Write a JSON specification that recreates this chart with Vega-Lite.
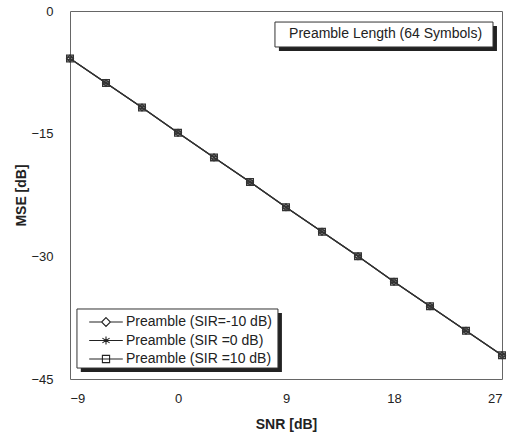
{
  "$schema": "https://vega.github.io/schema/vega-lite/v6.json",
  "width": 432,
  "height": 368,
  "autosize": {"type": "none"},
  "padding": {"left": 70, "top": 11, "right": 18, "bottom": 56},
  "background": "white",
  "config": {
    "font": "Liberation Sans",
    "view": {"stroke": "#666", "strokeWidth": 1},
    "axis": {
      "domain": false,
      "ticks": false,
      "labelFont": "Liberation Sans",
      "labelFontSize": 13,
      "labelColor": "#222",
      "titleFont": "Liberation Sans",
      "titleFontSize": 14,
      "titleFontWeight": "bold",
      "titleColor": "#222",
      "gridColor": "#bbb",
      "gridDash": [1, 6],
      "gridOpacity": 0.5
    }
  },
  "datasets": {
    "curves": [
      {"series": "Preamble (SIR=-10 dB)", "snr": -9, "mse": -5.8},
      {"series": "Preamble (SIR=-10 dB)", "snr": -6, "mse": -8.8},
      {"series": "Preamble (SIR=-10 dB)", "snr": -3, "mse": -11.8},
      {"series": "Preamble (SIR=-10 dB)", "snr": 0, "mse": -14.9},
      {"series": "Preamble (SIR=-10 dB)", "snr": 3, "mse": -17.9},
      {"series": "Preamble (SIR=-10 dB)", "snr": 6, "mse": -20.9},
      {"series": "Preamble (SIR=-10 dB)", "snr": 9, "mse": -24.0},
      {"series": "Preamble (SIR=-10 dB)", "snr": 12, "mse": -27.0},
      {"series": "Preamble (SIR=-10 dB)", "snr": 15, "mse": -30.0},
      {"series": "Preamble (SIR=-10 dB)", "snr": 18, "mse": -33.1},
      {"series": "Preamble (SIR=-10 dB)", "snr": 21, "mse": -36.1},
      {"series": "Preamble (SIR=-10 dB)", "snr": 24, "mse": -39.1},
      {"series": "Preamble (SIR=-10 dB)", "snr": 27, "mse": -42.1},
      {"series": "Preamble (SIR =0 dB)", "snr": -9, "mse": -5.8},
      {"series": "Preamble (SIR =0 dB)", "snr": -6, "mse": -8.8},
      {"series": "Preamble (SIR =0 dB)", "snr": -3, "mse": -11.8},
      {"series": "Preamble (SIR =0 dB)", "snr": 0, "mse": -14.9},
      {"series": "Preamble (SIR =0 dB)", "snr": 3, "mse": -17.9},
      {"series": "Preamble (SIR =0 dB)", "snr": 6, "mse": -20.9},
      {"series": "Preamble (SIR =0 dB)", "snr": 9, "mse": -24.0},
      {"series": "Preamble (SIR =0 dB)", "snr": 12, "mse": -27.0},
      {"series": "Preamble (SIR =0 dB)", "snr": 15, "mse": -30.0},
      {"series": "Preamble (SIR =0 dB)", "snr": 18, "mse": -33.1},
      {"series": "Preamble (SIR =0 dB)", "snr": 21, "mse": -36.1},
      {"series": "Preamble (SIR =0 dB)", "snr": 24, "mse": -39.1},
      {"series": "Preamble (SIR =0 dB)", "snr": 27, "mse": -42.1},
      {"series": "Preamble (SIR =10 dB)", "snr": -9, "mse": -5.8},
      {"series": "Preamble (SIR =10 dB)", "snr": -6, "mse": -8.8},
      {"series": "Preamble (SIR =10 dB)", "snr": -3, "mse": -11.8},
      {"series": "Preamble (SIR =10 dB)", "snr": 0, "mse": -14.9},
      {"series": "Preamble (SIR =10 dB)", "snr": 3, "mse": -17.9},
      {"series": "Preamble (SIR =10 dB)", "snr": 6, "mse": -20.9},
      {"series": "Preamble (SIR =10 dB)", "snr": 9, "mse": -24.0},
      {"series": "Preamble (SIR =10 dB)", "snr": 12, "mse": -27.0},
      {"series": "Preamble (SIR =10 dB)", "snr": 15, "mse": -30.0},
      {"series": "Preamble (SIR =10 dB)", "snr": 18, "mse": -33.1},
      {"series": "Preamble (SIR =10 dB)", "snr": 21, "mse": -36.1},
      {"series": "Preamble (SIR =10 dB)", "snr": 24, "mse": -39.1},
      {"series": "Preamble (SIR =10 dB)", "snr": 27, "mse": -42.1}
    ],
    "note": [{"text": "Preamble Length (64 Symbols)"}]
  },
  "resolve": {"scale": {"shape": "independent"}, "legend": {"shape": "independent"}},
  "encoding": {
    "x": {
      "type": "quantitative",
      "scale": {"domain": [-9, 27], "nice": false, "zero": false},
      "axis": {
        "title": "SNR [dB]",
        "values": [-9, -6, -3, 0, 3, 6, 9, 12, 15, 18, 21, 24, 27],
        "labelExpr": "datum.value % 9 === 0 ? datum.label : ''",
        "labelPadding": 13,
        "titlePadding": 12
      }
    },
    "y": {
      "type": "quantitative",
      "scale": {"domain": [-45, 0], "nice": false, "zero": false},
      "axis": {
        "title": "MSE [dB]",
        "values": [-45, -42, -39, -36, -33, -30, -27, -24, -21, -18, -15, -12, -9, -6, -3, 0],
        "labelExpr": "datum.value % 15 === 0 ? datum.label : ''",
        "labelPadding": 17,
        "titlePadding": 2
      }
    }
  },
  "layer": [
    {
      "data": {"name": "note"},
      "mark": {"type": "rect", "fill": "#222"},
      "encoding": {
        "x": {"datum": 8.41},
        "x2": {"datum": 26.58},
        "y": {"datum": -1.84},
        "y2": {"datum": -4.89}
      }
    },
    {
      "data": {"name": "note"},
      "mark": {"type": "rect", "fill": "white", "stroke": "#333", "strokeWidth": 1},
      "encoding": {
        "x": {"datum": 8.08},
        "x2": {"datum": 26.25},
        "y": {"datum": -1.35},
        "y2": {"datum": -4.4}
      }
    },
    {
      "data": {"name": "note"},
      "mark": {"type": "text", "fontSize": 14, "font": "Liberation Sans", "color": "#222", "align": "center", "baseline": "middle"},
      "encoding": {
        "x": {"datum": 17.3},
        "y": {"datum": -2.87},
        "text": {"field": "text"}
      }
    },
    {
      "data": {"name": "curves"},
      "mark": {"type": "line", "color": "#333", "strokeWidth": 1.2},
      "encoding": {
        "x": {"field": "snr", "type": "quantitative"},
        "y": {"field": "mse", "type": "quantitative"},
        "detail": {"field": "series"}
      }
    },
    {
      "data": {"name": "curves"},
      "mark": {"type": "point", "filled": false, "stroke": "#333", "strokeWidth": 1.3, "size": 45, "opacity": 1},
      "encoding": {
        "x": {"field": "snr", "type": "quantitative"},
        "y": {"field": "mse", "type": "quantitative"},
        "shape": {
          "field": "series",
          "type": "nominal",
          "scale": {
            "domain": ["Preamble (SIR=-10 dB)", "Preamble (SIR =0 dB)", "Preamble (SIR =10 dB)"],
            "range": ["diamond", "M0,-1V1M-0.87,-0.5L0.87,0.5M-0.87,0.5L0.87,-0.5", "square"]
          },
          "legend": null
        }
      }
    },
    {
      "data": {"name": "note"},
      "mark": {"type": "rect", "fill": "#222"},
      "encoding": {
        "x": {"datum": -8.1},
        "x2": {"datum": 8.66},
        "y": {"datum": -36.93},
        "y2": {"datum": -44.15}
      }
    },
    {
      "data": {"name": "note"},
      "mark": {"type": "rect", "fill": "white", "stroke": "#333", "strokeWidth": 1},
      "encoding": {
        "x": {"datum": -8.42},
        "x2": {"datum": 8.33},
        "y": {"datum": -36.44},
        "y2": {"datum": -43.66}
      }
    },
    {
      "data": {"name": "curves"},
      "mark": {"type": "point", "filled": false, "stroke": "#222", "size": 0, "opacity": 0},
      "encoding": {
        "x": {"field": "snr", "type": "quantitative"},
        "y": {"field": "mse", "type": "quantitative"},
        "shape": {
          "field": "series",
          "type": "nominal",
          "scale": {
            "domain": ["Preamble (SIR=-10 dB)", "Preamble (SIR =0 dB)", "Preamble (SIR =10 dB)"],
            "range": [
              "M-2.1,0H-0.55M0.55,0H2.1M0,-0.55L0.55,0L0,0.55L-0.55,0Z",
              "M-2.1,0H2.1M0,-0.5V0.5M-0.45,-0.3L0.45,0.3M-0.45,0.3L0.45,-0.3",
              "M-2.1,0H2.1M-0.45,-0.45H0.45V0.45H-0.45Z"
            ]
          },
          "legend": {
            "title": null,
            "orient": "none",
            "legendX": 27,
            "legendY": 302,
            "padding": 0,
            "rowPadding": 2.5,
            "symbolSize": 256,
            "symbolOpacity": 1,
            "labelOffset": 11,
            "labelFontSize": 14,
            "labelFont": "Liberation Sans",
            "labelColor": "#222",
            "labelLimit": 300,
            "symbolStrokeColor": "#222",
            "symbolFillColor": "transparent",
            "symbolStrokeWidth": 1.1
          }
        }
      }
    }
  ]
}
